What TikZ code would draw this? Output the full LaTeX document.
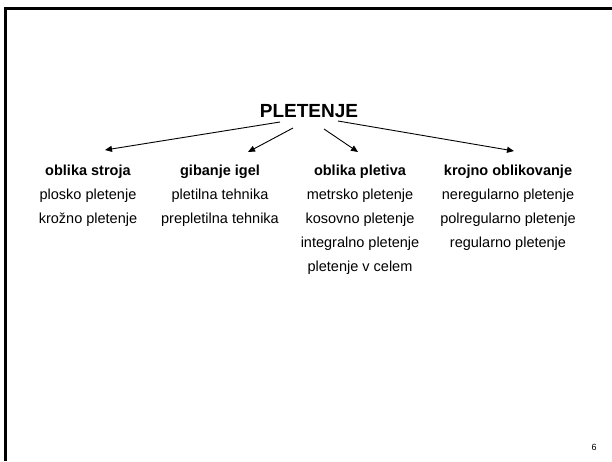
\documentclass[tikz,border=0pt]{standalone}
\usepackage{fontspec}
\setmainfont{Liberation Sans}
\usetikzlibrary{arrows.meta}

\begin{document}
\begin{tikzpicture}[x=1pt,y=-1pt,
  title/.style={font=\fontsize{19}{23}\selectfont\bfseries, inner sep=0pt},
  branch/.style={font=\fontsize{14.5}{24}\selectfont, align=center, anchor=north, inner sep=0pt},
  link/.style={-{Triangle[length=7pt,width=6pt]}, line width=0.9pt}]
\useasboundingbox (0,0) rectangle (612,461);
% slide frame
\draw[line width=3pt] (5.5,461) -- (5.5,8.5) -- (612,8.5);
\node[title] (pletenje) at (309,111) {PLETENJE};
\node[branch] (stroj) at (88,165) {\textbf{oblika stroja}\\ plosko pletenje\\ krožno pletenje};
\node[branch] (igle) at (220,165) {\textbf{gibanje igel}\\ pletilna tehnika\\ prepletilna tehnika};
\node[branch] (pletivo) at (360,165) {\textbf{oblika pletiva}\\ metrsko pletenje\\ kosovno pletenje\\ integralno pletenje\\ pletenje v celem};
\node[branch] (kroj) at (508,165) {\textbf{krojno oblikovanje}\\ neregularno pletenje\\ polregularno pletenje\\ regularno pletenje};
% arrow ends
\coordinate (s1) at (280,122); \coordinate (e1) at (105,150);
\coordinate (s2) at (293,128); \coordinate (e2) at (248,152);
\coordinate (s3) at (324,129); \coordinate (e3) at (358,152);
\coordinate (s4) at (338,121); \coordinate (e4) at (514,151);
\draw[link] (s1) -- (e1);
\draw[link] (s2) -- (e2);
\draw[link] (s3) -- (e3);
\draw[link] (s4) -- (e4);
\node[font=\fontsize{9}{11}\selectfont] (page) at (594,447) {6};
\end{tikzpicture}
\end{document}
